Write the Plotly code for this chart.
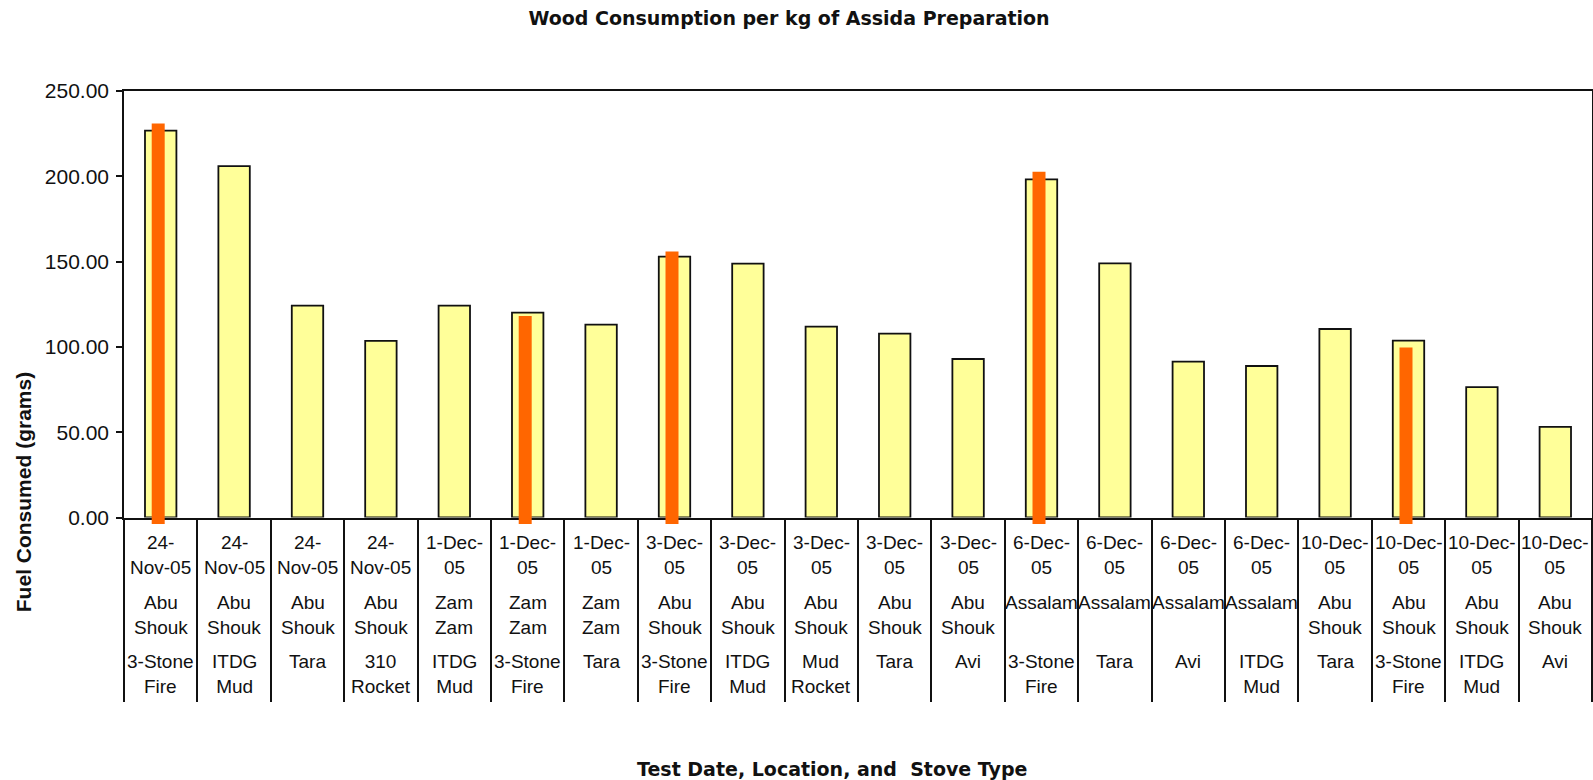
import plotly.graph_objects as go

# Test records: date, camp and stove for each cooking test
test_dates = ["24-Nov-05"] * 4 + ["1-Dec-05"] * 3 + ["3-Dec-05"] * 5 + ["6-Dec-05"] * 4 + ["10-Dec-05"] * 4
locations = ["Abu Shouk"] * 4 + ["Zam Zam"] * 3 + ["Abu Shouk"] * 5 + ["Assalam"] * 4 + ["Abu Shouk"] * 4
stoves = [
    "3-Stone Fire", "ITDG Mud", "Tara", "310 Rocket",
    "ITDG Mud", "3-Stone Fire", "Tara",
    "3-Stone Fire", "ITDG Mud", "Mud Rocket", "Tara", "Avi",
    "3-Stone Fire", "Tara", "Avi", "ITDG Mud",
    "Tara", "3-Stone Fire", "ITDG Mud", "Avi",
]
# Wood consumed per kg of assida (grams)
fuel_g = [226.8, 206.0, 124.2, 103.5, 124.2, 120.1, 113.1, 152.9, 148.8, 111.9,
          107.8, 92.9, 198.2, 149.0, 91.4, 88.8, 110.5, 103.7, 76.4, 53.1]
# Reference 3-stone fire consumption for the same test days (grams)
three_stone_g = [227.1, 114.3, 152.1, 198.9, 95.8]
y_ticks = [0, 50, 100, 150, 200, 250]

# ---- geometry (pixels) ----
W, H = 1593, 780
PLOT_L, PLOT_R = 124, 1592
PLOT_T, ZERO_Y = 90.7, 517.3
CAP_PX = 6.5                      # square cap of the thick reference lines
BOTTOM = ZERO_Y + CAP_PX
px_per_unit = (ZERO_Y - PLOT_T) / 250.0
cap_units = CAP_PX / px_per_unit
full_h = BOTTOM - PLOT_T


def py(y):
    return (BOTTOM - y) / full_h


def px(x):
    return (x - PLOT_L) / (PLOT_R - PLOT_L)


def wrap_date(d):
    # long day+month heads break after the day, short ones after the month
    parts = d.split("-")
    if len(parts[0]) == 2 and parts[1] != "Dec":
        return parts[0] + "-<br>" + parts[1] + "-" + parts[2]
    return parts[0] + "-" + parts[1] + "-<br>" + parts[2]


def wrap_words(s):
    return "<br>".join(s.split(" "))


cats = [f"{d} {l} {s}" for d, l, s in zip(test_dates, locations, stoves)]
stone_cats = [c for c, s in zip(cats, stoves) if s == "3-Stone Fire"]

fig = go.Figure()
fig.add_trace(go.Bar(
    x=cats, y=fuel_g, width=0.428,
    marker=dict(color="#FFFF99", line=dict(color="#111111", width=1.8)),
    showlegend=False, hoverinfo="y",
))
fig.add_trace(go.Bar(
    x=stone_cats, y=[v + 2 * cap_units for v in three_stone_g], base=-cap_units,
    width=0.177, offset=-0.1225,
    marker=dict(color="#FF6600", line=dict(width=0)),
    xaxis="x", yaxis="y2", showlegend=False, hoverinfo="skip",
))

label_font = dict(family="Liberation Sans, Arial, sans-serif", size=19, color="#111111")
annotations = []
for c, d, l, s in zip(cats, test_dates, locations, stoves):
    for text, top in ((wrap_date(d), 530), (wrap_words(l), 590), (wrap_words(s), 649)):
        annotations.append(dict(
            x=c, xref="x", y=py(top), yref="paper", yanchor="top", xanchor="center",
            text=text, showarrow=False, align="center", font=label_font,
        ))

annotations.append(dict(
    x=px(832), xref="paper", y=py(769), yref="paper", yanchor="middle", xanchor="center",
    text="Test Date, Location, and \u00a0Stove Type", showarrow=False,
    font=dict(family="DejaVu Sans, Verdana, sans-serif", size=19, color="#111111", weight="bold"),
))
annotations.append(dict(
    x=px(23), xref="paper", y=py(492), yref="paper", yanchor="middle", xanchor="center",
    text="Fuel Consumed (grams)", textangle=-90, showarrow=False,
    font=dict(family="Liberation Sans, Arial, sans-serif", size=21, color="#111111", weight="bold"),
))

fig.update_layout(
    width=W, height=H,
    margin=dict(l=PLOT_L, r=W - PLOT_R, t=PLOT_T, b=H - BOTTOM, autoexpand=False),
    paper_bgcolor="white", plot_bgcolor="rgba(0,0,0,0)",
    title=dict(
        text="Wood Consumption per kg of Assida Preparation",
        x=789 / W, xanchor="center", y=1 - 18.5 / H, yanchor="middle", yref="container",
        font=dict(family="DejaVu Sans, Verdana, sans-serif", size=19, color="#111111", weight="bold"),
    ),
    barmode="overlay",
    annotations=annotations,
    xaxis=dict(
        type="category", anchor="y", range=[-0.5, len(cats) - 0.5],
        showticklabels=False, ticks="outside", tickson="boundaries",
        ticklen=183, tickwidth=1.5, tickcolor="#111111",
        showline=True, linecolor="#111111", linewidth=1.5, mirror=True,
        showgrid=False, zeroline=False, fixedrange=True,
    ),
    yaxis=dict(
        domain=[CAP_PX / full_h, 1], range=[0, 250], tickvals=y_ticks, tickformat=".2f",
        ticks="outside", ticklen=6, tickwidth=1.5, tickcolor="#111111",
        ticklabelstandoff=3,
        tickfont=dict(family="Liberation Sans, Arial, sans-serif", size=21, color="#111111"),
        showline=True, linecolor="#111111", linewidth=1.5, mirror=True,
        showgrid=False, zeroline=False, fixedrange=True,
    ),
    yaxis2=dict(
        domain=[0, 1], range=[-cap_units, 250], anchor="x", visible=False, fixedrange=True,
    ),
)

fig.write_html("out.html")
